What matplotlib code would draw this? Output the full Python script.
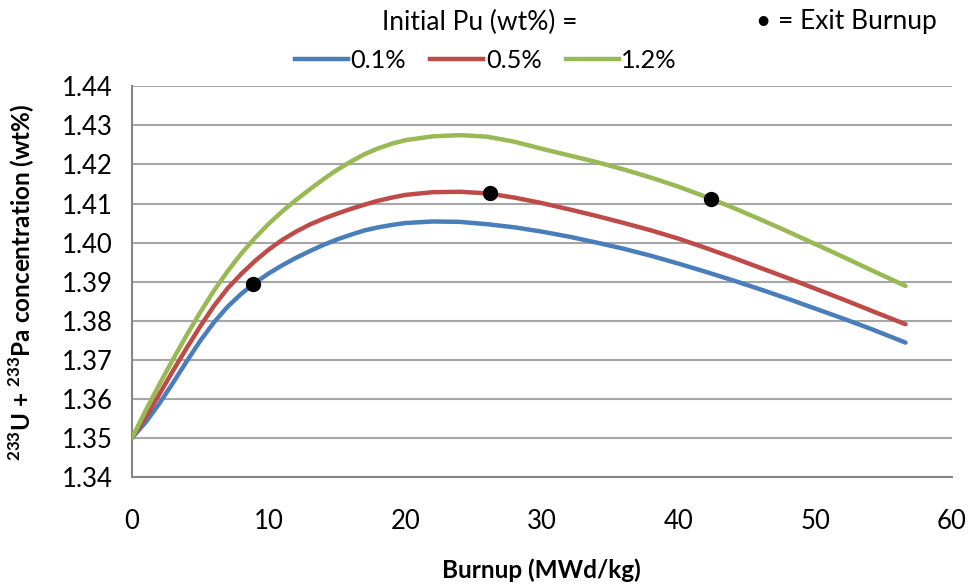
import matplotlib
matplotlib.use("Agg")
import matplotlib.pyplot as plt
from matplotlib.lines import Line2D

plt.rcParams['font.family'] = ['Lato', 'DejaVu Sans']
plt.rcParams['mathtext.fontset'] = 'custom'
plt.rcParams['mathtext.rm'] = 'Lato'
plt.rcParams['mathtext.bf'] = 'Lato:bold'

burnup = [0, 1, 2, 3, 4, 5, 6, 7, 8, 9, 10, 11, 12, 13, 14, 15, 16, 17, 18, 19, 20,
          22, 24, 26, 28, 30, 32, 34, 36, 38, 40, 42, 44, 46, 48, 50, 52, 54, 56.6]

pu_01 = [1.3500, 1.3540, 1.3588, 1.3641, 1.3696, 1.3749, 1.3796, 1.3836, 1.3869, 1.3897,
         1.3921, 1.3942, 1.3961, 1.3978, 1.3994, 1.4008, 1.4020, 1.4031, 1.4039, 1.4045,
         1.4050, 1.4054, 1.4053, 1.4047, 1.4039, 1.4028, 1.4015, 1.4000, 1.3984, 1.3966,
         1.3946, 1.3925, 1.3903, 1.3880, 1.3856, 1.3831, 1.3806, 1.3780, 1.3744]

pu_05 = [1.3500, 1.3553, 1.3612, 1.3672, 1.3730, 1.3786, 1.3838, 1.3883, 1.3920, 1.3953,
         1.3982, 1.4007, 1.4028, 1.4046, 1.4061, 1.4074, 1.4086, 1.4097, 1.4107, 1.4115,
         1.4122, 1.4129, 1.4130, 1.4126, 1.4115, 1.4101, 1.4085, 1.4068, 1.4050, 1.4031,
         1.4010, 1.3986, 1.3961, 1.3935, 1.3909, 1.3882, 1.3855, 1.3827, 1.3791]

pu_12 = [1.3500, 1.3570, 1.3637, 1.3701, 1.3763, 1.3822, 1.3877, 1.3927, 1.3972, 1.4012,
         1.4048, 1.4080, 1.4109, 1.4136, 1.4162, 1.4186, 1.4207, 1.4226, 1.4241, 1.4253,
         1.4262, 1.4272, 1.4275, 1.4271, 1.4258, 1.4240, 1.4223, 1.4206, 1.4187, 1.4166,
         1.4143, 1.4117, 1.4089, 1.4059, 1.4028, 1.3996, 1.3964, 1.3931, 1.3889]

series_labels = ['0.1%', '0.5%', '1.2%']
colors = ['#4A7EBB', '#BE4B48', '#98B954']

exit_burnup = [8.86, 26.2, 42.34]
exit_conc = [1.3893, 1.4126, 1.4112]

xticks = [0, 10, 20, 30, 40, 50, 60]
yticks = [1.34, 1.35, 1.36, 1.37, 1.38, 1.39, 1.40, 1.41, 1.42, 1.43, 1.44]

fig = plt.figure(figsize=(9.69, 5.88), dpi=100)
ax = fig.add_axes([132/969, 1-477/588, (952-132)/969, (477-86.3)/588])

for y, c, lab in zip([pu_01, pu_05, pu_12], colors, series_labels):
    ax.plot(burnup, y, color=c, lw=3.2, label=lab, solid_capstyle='round',
            solid_joinstyle='round', zorder=3)

ax.plot(exit_burnup, exit_conc, 'o', color='black', ms=10, zorder=4)

ax.set_xlim(0, 60)
ax.set_ylim(1.34, 1.44)
ax.set_xticks(xticks)
ax.set_yticks(yticks)
ax.set_yticklabels([f"{v:.2f}" for v in yticks])
ax.tick_params(length=0, labelsize=18.5, colors='black')
ax.tick_params(axis='y', pad=14)
ax.tick_params(axis='x', pad=23)
ax.grid(axis='y', color='#A6A6A6', lw=1.5)
ax.set_axisbelow(True)
for s in ['top', 'right']:
    ax.spines[s].set_visible(False)
for s in ['left', 'bottom']:
    ax.spines[s].set_color('#868686')
    ax.spines[s].set_linewidth(1.5)

fig.text(541/969, 1-570/588, 'Burnup (MWd/kg)', ha='center', va='center',
         fontsize=17.5, fontweight='bold')
fig.text(22/969, 1-282/588, r'$^{\mathbf{233}}$U + $^{\mathbf{233}}$Pa concentration (wt%)',
         ha='center', va='center', rotation=90, fontsize=17.5, fontweight='bold')

fig.text(480/969, 1-22/588, 'Initial Pu (wt%) =', ha='center', va='center', fontsize=19)
fig.text(846/969, 1-22/588, '\u2022 = Exit Burnup', ha='center', va='center', fontsize=19)

handles = [Line2D([0], [0], color=c, lw=3.2) for c in colors]
fig.legend(handles, series_labels, loc='center', bbox_to_anchor=(486/969, 1-60/588),
           ncol=3, frameon=False, fontsize=18.3, handlelength=2.08, handletextpad=0.1,
           columnspacing=0.95, borderpad=0)

fig.savefig('out.png', dpi=100)
